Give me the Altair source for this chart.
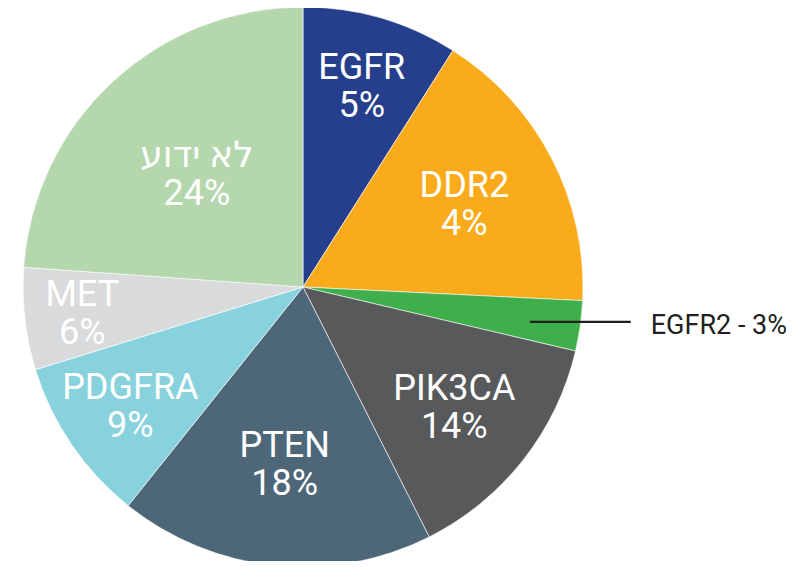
import altair as alt
import pandas as pd

# ---- data ----
genes = ["EGFR", "DDR2", "EGFR2", "PIK3CA", "PTEN", "PDGFRA", "MET", "לא ידוע"]
shares = [9.0, 16.8, 2.9, 13.9, 18.2, 9.5, 5.9, 23.9]          # slice sizes (angle / 3.6)
pct_labels = ["5%", "4%", "3%", "14%", "18%", "9%", "6%", "24%"]  # printed labels
colors = ["#263f8d", "#f9ab1c", "#3faf4b", "#58595b", "#4d6779",
          "#87d2dd", "#d9dadc", "#b5d7ae"]
outside = ["EGFR2"]

df = pd.DataFrame({
    "gene": genes,
    "share": shares,
    "pct": pct_labels,
    "idx": list(range(len(genes))),
})

CX, CY, R = 295, 279, 280
FONT = "Roboto, 'Noto Sans', 'DejaVu Sans', sans-serif"

arcs = alt.Chart(df).mark_arc(
    radius=R, stroke="#ffffff", strokeWidth=0.6
).encode(
    theta=alt.Theta("share:Q", stack=True),
    order=alt.Order("idx:Q"),
    color=alt.Color("gene:N", scale=alt.Scale(domain=genes, range=colors), legend=None),
    x=alt.value(CX),
    y=alt.value(CY),
)

out_expr = "indexof(" + str(outside).replace('"', "'") + ", datum.gene) >= 0"

# label positions derived from the stacked angles of the slices
lab_base = alt.Chart(df).transform_joinaggregate(
    total="sum(share)"
).transform_window(
    cum="sum(share)", sort=[alt.SortField("idx")], frame=[None, 0]
).transform_calculate(
    mid="(datum.cum - datum.share / 2) / datum.total * 2 * PI",
    lab_r="244 - 3.7 * datum.share",
    ix=f"{CX} + datum.lab_r * sin(datum.mid)",
    iy=f"{CY} - datum.lab_r * cos(datum.mid)",
    lx=f"{CX} + 229 * sin(datum.mid)",
    ly=f"{CY} - 229 * cos(datum.mid) + 3",
    lx2="datum.lx + 101",
    tx="datum.lx2 + 20",
    inner_label="datum.gene + '\\n' + datum.pct",
    olabel="datum.gene + ' - ' + datum.pct",
)

inner = lab_base.transform_filter(f"!({out_expr})").mark_text(
    font=FONT, fontSize=36, color="#ffffff", lineBreak="\n",
    lineHeight=38, align="center", baseline="middle", dy=-17,
).encode(
    x=alt.X("ix:Q", scale=None, axis=None),
    y=alt.Y("iy:Q", scale=None, axis=None),
    text="inner_label:N",
)

lead_base = lab_base.transform_filter(out_expr)

leader = lead_base.mark_rule(color="#231f20", strokeWidth=2.2).encode(
    x=alt.X("lx:Q", scale=None, axis=None),
    x2="lx2:Q",
    y=alt.Y("ly:Q", scale=None, axis=None),
)

outer = lead_base.mark_text(
    font=FONT, fontSize=27, color="#231f20", align="left",
    baseline="middle", dy=4,
).encode(
    x=alt.X("tx:Q", scale=None, axis=None),
    y=alt.Y("ly:Q", scale=None, axis=None),
    text="olabel:N",
)

chart = alt.layer(arcs, inner, leader, outer).properties(
    width=793, height=553, padding=0,
    autosize=alt.AutoSizeParams(type="none"),
).configure_view(stroke=None)

chart.save("out.html", embed_options={"renderer": "svg", "actions": False})
